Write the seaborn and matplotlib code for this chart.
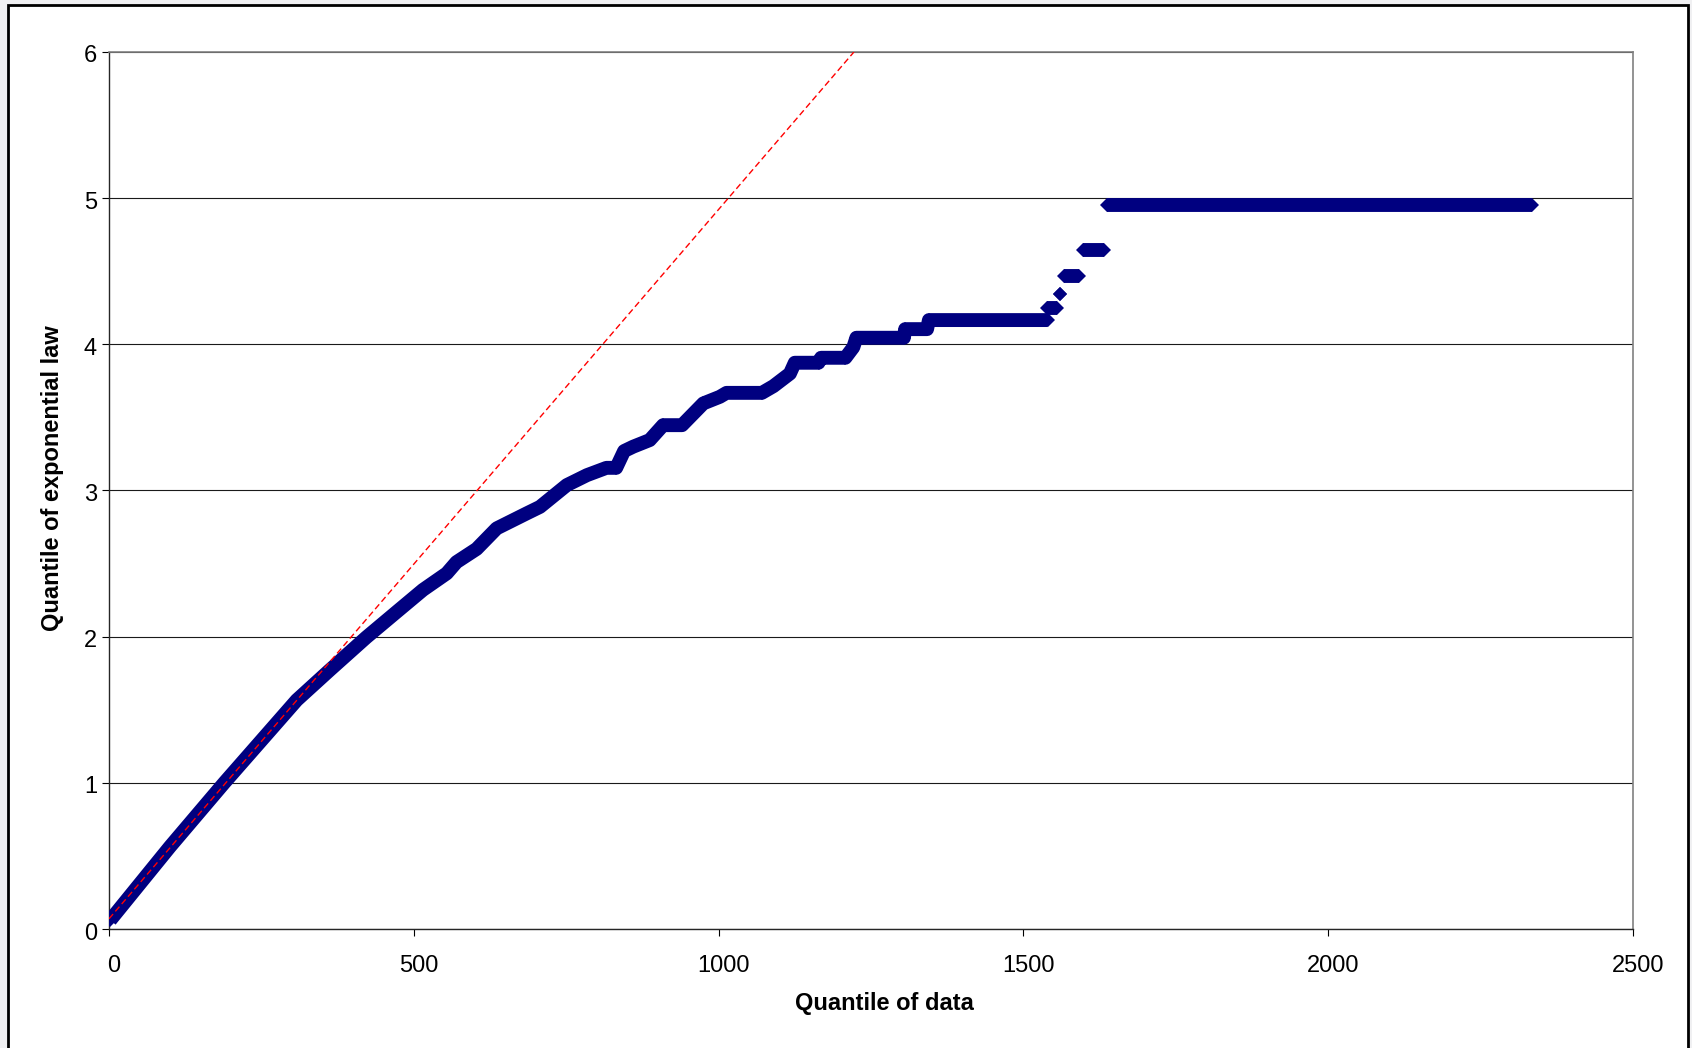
import matplotlib
matplotlib.use("Agg")
import matplotlib.pyplot as plt
import matplotlib.transforms as mtransforms
from matplotlib.patches import Rectangle
import pandas as pd
import seaborn as sns

# ---- data ----
data_quantile = [2, 100, 189, 308, 362, 422, 472, 515, 554, 570, 603, 636, 685, 707,
                 751, 784, 816, 832, 845, 860, 887, 909, 940, 975, 1002, 1013, 1071, 1090,
                 1117, 1125, 1164, 1168, 1208, 1221, 1226, 1304, 1306, 1342, 1345, 1540]
exp_quantile = [0.06, 0.563, 1.0, 1.566, 1.771, 1.995, 2.17, 2.32, 2.433, 2.51,
                 2.600, 2.741, 2.843, 2.888, 3.037, 3.105, 3.155, 3.155, 3.27, 3.30, 3.345,
                 3.447, 3.447, 3.596, 3.641, 3.668, 3.668, 3.714, 3.80, 3.874, 3.874, 3.908,
                 3.908, 3.98, 4.045, 4.045, 4.104, 4.104, 4.166, 4.166]

tail_level = [4.25, 4.343, 4.468, 4.644, 4.952]
tail_start = [1539, 1560, 1566, 1598, 1637]
tail_end = [1555, 1560, 1592, 1632, 2334]

ref_x = [0, 1222]
ref_y = [0.07, 6.0]

x_ticks = [0, 500, 1000, 1500, 2000, 2500]
y_ticks = [0, 1, 2, 3, 4, 5, 6]

NAVY = "#000080"

# ---- tables ----
main = pd.DataFrame({"x": data_quantile, "y": exp_quantile})

rows = []
seg = 0
for lv, xs, xe in zip(tail_level, tail_start, tail_end):
    rows.append((xs, lv, seg))
    rows.append((xe, lv, seg))
    seg += 1
tail = pd.DataFrame(rows, columns=["x", "y", "seg"])

# ---- figure ----
sns.set_theme(style="white")
plt.rcParams["font.family"] = ["Liberation Sans", "DejaVu Sans"]

W, H = 1692, 1048
fig = plt.figure(figsize=(W / 100, H / 100), dpi=100)
fig.patch.set_facecolor("#f0f0f2")
fig.add_artist(Rectangle((8 / W, -0.01), (1688 - 8) / W, (H - 5) / H + 0.01,
                         transform=fig.transFigure, facecolor="white",
                         edgecolor="black", lw=2.0, zorder=0))

ax = fig.add_axes([109 / W, (H - 929) / H, (1633 - 109) / W, (929 - 52) / H])
ax.set_facecolor("white")

sns.lineplot(data=main, x="x", y="y", sort=False, estimator=None, color=NAVY,
             lw=10.0, marker="D", markersize=7.1, markeredgewidth=0,
             solid_capstyle="butt", solid_joinstyle="round", ax=ax, zorder=3)
sns.lineplot(data=tail, x="x", y="y", units="seg", sort=False, estimator=None,
             color=NAVY, lw=10.0, marker="D", markersize=7.1, markeredgewidth=0,
             solid_capstyle="butt", ax=ax, zorder=3)
sns.lineplot(x=ref_x, y=ref_y, color="#ff0000", lw=1.0, linestyle=(0, (4.5, 2.5)),
             ax=ax, zorder=5)

ax.set_xlim(0, 2500)
ax.set_ylim(0, 6)
ax.set_xticks(x_ticks)
ax.set_yticks(y_ticks)
ax.set_xticklabels([str(v) for v in x_ticks])
ax.set_yticklabels([str(v) for v in y_ticks])

ax.tick_params(axis="both", direction="out", length=5, width=0.8, colors="black",
               labelsize=17, bottom=True, left=True)
ax.tick_params(axis="x", pad=13.5)
ax.tick_params(axis="y", pad=3.6)

ax.yaxis.grid(True, color="#1a1a1a", lw=0.8)
ax.xaxis.grid(False)
ax.set_axisbelow(True)

for s in ["left", "bottom"]:
    ax.spines[s].set_color("#262626")
    ax.spines[s].set_linewidth(1.0)
for s in ["top", "right"]:
    ax.spines[s].set_color("#808080")
    ax.spines[s].set_linewidth(1.2)

ax.set_xlabel("Quantile of data", fontsize=17, fontweight="bold", color="black")
ax.set_ylabel("Quantile of exponential law", fontsize=17, fontweight="bold", color="black")
ax.xaxis.set_label_coords(0.5085, -0.0718)
ax.yaxis.set_label_coords(-0.0295, 0.514)

dx = mtransforms.ScaledTranslation(5 / 100, 0, fig.dpi_scale_trans)
for t in ax.xaxis.get_major_ticks():
    t.label1.set_transform(t.label1.get_transform() + dx)
dy = mtransforms.ScaledTranslation(0, -2 / 100, fig.dpi_scale_trans)
for t in ax.yaxis.get_major_ticks():
    t.label1.set_transform(t.label1.get_transform() + dy)

fig.savefig("out.png", dpi=100, facecolor=fig.get_facecolor())
